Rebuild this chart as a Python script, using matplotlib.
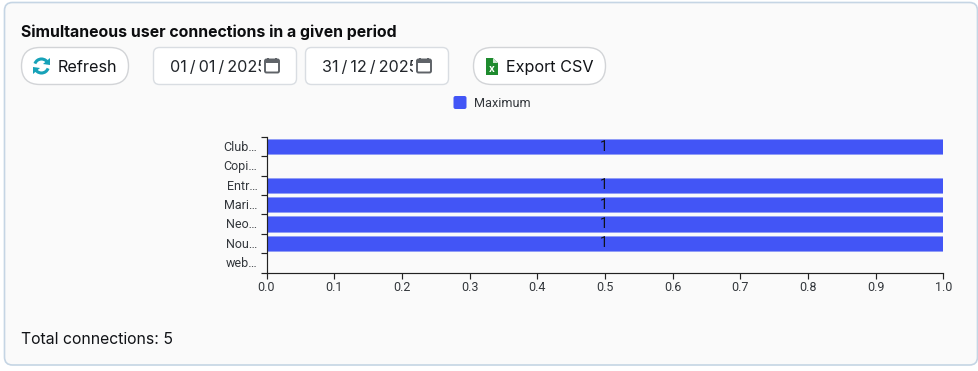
import matplotlib
matplotlib.use('Agg')
import matplotlib.pyplot as plt
from matplotlib.patches import FancyBboxPatch, Rectangle, Arc, Polygon

plt.rcParams['font.family'] = ['Inter', 'Roboto', 'DejaVu Sans']

labels = ['Club…', 'Copi…', 'Entr…', 'Mari…', 'Neo…', 'Nou…', 'web…']
values = [1, 0, 1, 1, 1, 1, 0]
xticks = [0.0, 0.1, 0.2, 0.3, 0.4, 0.5, 0.6, 0.7, 0.8, 0.9, 1.0]

W, H = 979, 371
BLUE = '#4255f6'
INK = '#111317'
AXC = '#222222'
LBL = '#33373c'

fig = plt.figure(figsize=(W / 100, H / 100), dpi=100, facecolor='white')

# calque en pixels pour la carte et les boutons
ui = fig.add_axes([0, 0, 1, 1])
ui.set_xlim(0, W); ui.set_ylim(H, 0); ui.axis('off')


def box(x, y, w, h, r, fc='white', ec='#d9dde2', lw=1.0, z=1):
    p = FancyBboxPatch((x + r, y + r), w - 2 * r, h - 2 * r, boxstyle=f'round,pad={r},rounding_size={r}',
                       fc=fc, ec=ec, lw=lw, zorder=z)
    ui.add_patch(p)
    return p


def txt(x, y, s, px, **kw):
    kw.setdefault('va', 'center')
    kw.setdefault('color', INK)
    return ui.text(x, y, s, fontsize=px * 0.72, **kw)


def calendar(x, y):
    ui.add_patch(FancyBboxPatch((x + 1.5, y + 2), 13, 12, boxstyle='round,pad=0.5,rounding_size=1.5',
                                fc='none', ec='#5f6368', lw=1.4, zorder=3))
    ui.add_patch(Rectangle((x + 1, y + 1.5), 14, 3.5, fc='#5f6368', ec='none', zorder=3))
    ui.add_patch(Rectangle((x + 3.5, y), 1.6, 2.5, fc='#5f6368', ec='none', zorder=3))
    ui.add_patch(Rectangle((x + 11, y), 1.6, 2.5, fc='#5f6368', ec='none', zorder=3))


# carte
box(4.5, 2.5, 973, 362.5, 8, fc='#fafafa', ec='#c5d5e4', lw=1.2, z=0)
txt(21, 32, 'Simultaneous user connections in a given period', 15.85, fontweight='bold', color='#0c0d0f')

# bouton Refresh
box(21.5, 47.5, 107, 37, 18.5, ec='#d2d4d7')
for t1, t2 in [(200, 340), (20, 160)]:
    ui.add_patch(Arc((41.5, 66), 14, 14, theta1=t1, theta2=t2, color='#17a2b8', lw=2.2, zorder=3))
ui.add_patch(Polygon([[50, 58], [50, 65], [43, 64]], fc='#17a2b8', ec='none', zorder=3))
ui.add_patch(Polygon([[33, 74], [33, 67], [40, 68]], fc='#17a2b8', ec='none', zorder=3))
txt(58, 67.5, 'Refresh', 16.2)

# champs de date
box(153.5, 47.5, 143, 37, 6)
box(305.5, 47.5, 143, 37, 6)
for x, s, right in [(170, '01\u2009/\u200901\u2009/\u20092025', 261), (322, '31\u2009/\u200912\u2009/\u20092025', 413)]:
    t = txt(x, 67.5, s, 16.2, color='#22262b')
    t.set_clip_path(Rectangle((x - 2, 50), right - x + 2, 30, transform=ui.transData))
    t.set_clip_on(True)
calendar(264, 58)
calendar(416, 58)

# bouton Export CSV
box(473.5, 47.5, 132, 37, 18.5, ec='#d2d4d7')
ui.add_patch(Polygon([[486, 58], [493, 58], [498, 63], [498, 75], [486, 75]], fc='#1e8b2e', ec='none', zorder=3))
ui.add_patch(Polygon([[493, 58], [493, 63], [498, 63]], fc='#cfe8d3', ec='none', zorder=4))
txt(492, 69.5, 'x', 10, color='white', ha='center', fontweight='bold', zorder=5)
txt(506, 67.5, 'Export CSV', 16.2)

# legende
box(453.5, 96, 13, 13, 2, fc=BLUE, ec='none')
txt(474.5, 103.5, 'Maximum', 12.6, family='Roboto', color=LBL)

txt(21.5, 339, 'Total connections: 5', 15.8)

# graphique
ax = fig.add_axes([266.5 / W, 1 - 272.5 / H, (943.5 - 266.5) / W, (272.5 - 137) / H])
ax.patch.set_alpha(0)
pos = list(range(len(labels)))
ax.barh(pos, values, height=0.8, color=BLUE, edgecolor='#8d99f6', linewidth=0.5)
ax.set_xlim(0, 1)
ax.set_ylim(len(labels) - 0.5, -0.5)
for p, v in zip(pos, values):
    if v:
        ax.annotate(str(v), xy=(v / 2, p), xytext=(-0.7, 0), textcoords='offset points', ha='center', va='center',
                    fontsize=10.1, family='Roboto', color='#10121c')

for s in ('top', 'right'):
    ax.spines[s].set_visible(False)
for s in ('left', 'bottom'):
    ax.spines[s].set_linewidth(0.85)
    ax.spines[s].set_color(AXC)

ax.set_xticks(xticks)
ax.set_xticklabels([f'{v:.1f}' for v in xticks], fontsize=9, family='Roboto', color=LBL)
ax.tick_params(axis='x', length=4.3, width=0.85, color=AXC, pad=2)

# graduations entre les bandes, libelles centres sur les bandes
ax.set_yticks([p - 0.5 for p in pos] + [len(labels) - 0.5])
ax.set_yticklabels([])
ax.tick_params(axis='y', length=4.3, width=0.85, color=AXC)
for p, name in zip(pos, labels):
    ax.annotate(name, xy=(0, p), xycoords=('axes fraction', 'data'), xytext=(-6.5, -0.6),
                textcoords='offset points', ha='right', va='center', fontsize=9, family='Roboto', color=LBL)

fig.savefig('out.png', dpi=100, facecolor='white')
